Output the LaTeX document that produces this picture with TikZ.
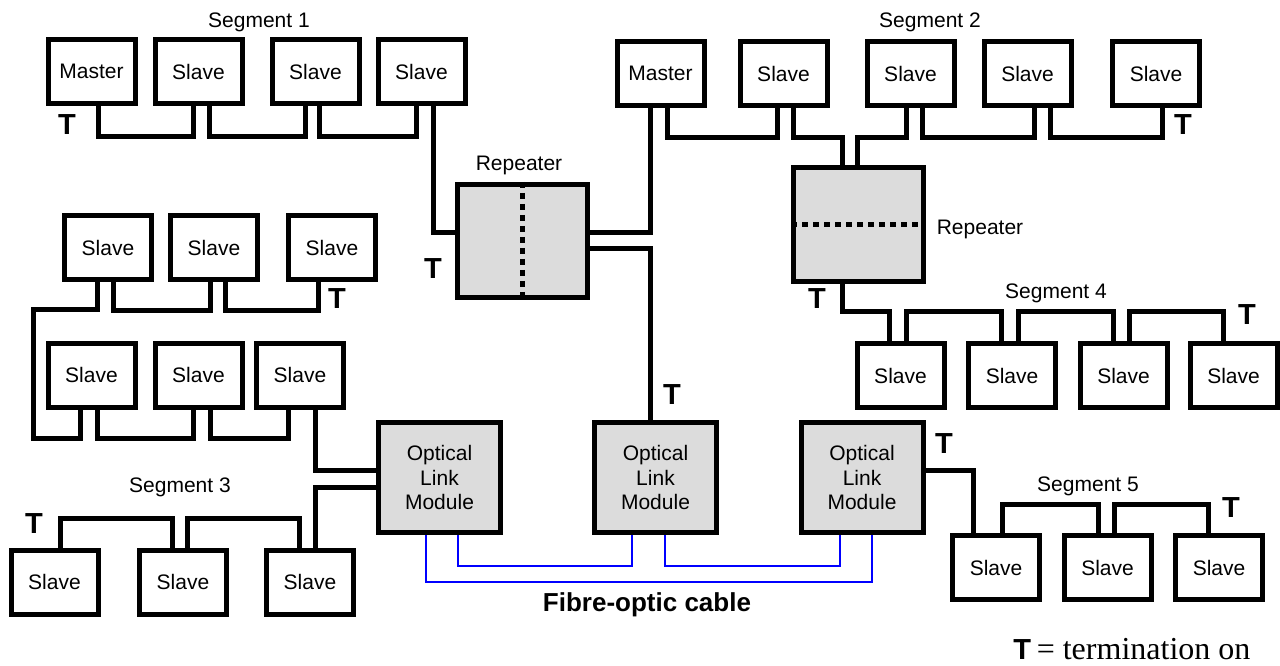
\documentclass[tikz,border=0pt]{standalone}
\usepackage{fontspec}
\setmainfont{Liberation Sans}
\newfontfamily\timesfont{Liberation Serif}
\definecolor{panelgray}{RGB}{220,220,220}

\begin{document}
\begin{tikzpicture}[x=0.75pt,y=-0.75pt,
  every node/.style={font=\fontsize{15.75}{18.4}\selectfont},
  device/.style={draw,line width=3.75pt,minimum width=65.25pt,minimum height=48pt,inner sep=0pt},
  repeater/.style={draw,line width=3.75pt,fill=panelgray,minimum width=97pt,minimum height=85pt},
  olm/.style={draw,line width=3.75pt,fill=panelgray,minimum width=91.5pt,minimum height=82.5pt,
    align=center,inner sep=0pt},
  bus/.style={line width=3.75pt},
  fibre/.style={blue,line width=1.3pt},
  split/.style={line width=3.75pt,dash pattern=on 4.5pt off 3.75pt},
  term/.style={inner sep=0pt,font=\fontsize{21.75}{22}\selectfont\bfseries}]
  \useasboundingbox (0,0) rectangle (1280,665);

  % segment 1
  \node[device] (m1)  at (91.5,71.5)  {Master};
  \node[device] (s11) at (198.5,71.5) {Slave};
  \node[device] (s12) at (315.5,71.5) {Slave};
  \node[device] (s13) at (421.5,71.5) {Slave};
  \node at (259,22) {Segment 1};
  % segment 2
  \node[device] (m2)  at (660.5,73.5)  {Master};
  \node[device] (s21) at (783.5,73.5)  {Slave};
  \node[device] (s22) at (910.5,73.5)  {Slave};
  \node[device] (s23) at (1027.5,73.5) {Slave};
  \node[device] (s24) at (1156,73.5)   {Slave};
  \node at (930,22) {Segment 2};
  % left rows (segment 3)
  \node[device] (a1) at (108,247.5) {Slave};
  \node[device] (a2) at (214,247.5) {Slave};
  \node[device] (a3) at (332,247.5) {Slave};
  \node[device] (b1) at (91.5,375)  {Slave};
  \node[device] (b2) at (198.5,375) {Slave};
  \node[device] (b3) at (300,375)   {Slave};
  \node[device] (c1) at (54.5,582)  {Slave};
  \node[device] (c2) at (183,582)   {Slave};
  \node[device] (c3) at (310,582)   {Slave};
  \node at (180,487) {Segment 3};
  % segment 4
  \node[device] (d1) at (900.5,375.5)  {Slave};
  \node[device] (d2) at (1012,375.5)   {Slave};
  \node[device] (d3) at (1123.5,375.5) {Slave};
  \node[device] (d4) at (1233.5,375.5) {Slave};
  \node at (1056,293) {Segment 4};
  % segment 5
  \node[device] (e1) at (996,567.5)    {Slave};
  \node[device] (e2) at (1107.5,567.5) {Slave};
  \node[device] (e3) at (1219,567.5)   {Slave};
  \node at (1088,486) {Segment 5};

  % repeaters
  \node[repeater] (r1) at (522.5,241) {};
  \draw[split] (r1.north) -- (r1.south);
  \node at (519,165) {Repeater};
  \node[repeater] (r2) at (858.5,224.5) {};
  \draw[split] (r2.west) -- (r2.east);
  \node at (980,229) {Repeater};

  % optical link modules
  \node[olm] (o1) at (439.5,477.5) {Optical\\Link\\Module};
  \node[olm] (o2) at (655.5,477.5) {Optical\\Link\\Module};
  \node[olm] (o3) at (862,477.5)   {Optical\\Link\\Module};

  % bus cables, segment 1
  \draw[bus] (98,0 |- m1.south)  |- (193,136) -- (193,0 |- s11.south);
  \draw[bus] (209,0 |- s11.south) |- (305,136) -- (305,0 |- s12.south);
  \draw[bus] (319,0 |- s12.south) |- (416,136) -- (416,0 |- s13.south);
  \draw[bus] (433,0 |- s13.south) |- (r1.west |- 0,232);
  % repeater 1 to segment 2 and fibre link
  \draw[bus] (r1.east |- 0,232) -| (650,0 |- m2.south);
  \draw[bus] (r1.east |- 0,248) -| (650,0 |- o2.north);
  % segment 2
  \draw[bus] (667,0 |- m2.south)   |- (777,137) -- (777,0 |- s21.south);
  \draw[bus] (793,0 |- s21.south)  |- (842,137) -- (842,0 |- r2.north);
  \draw[bus] (857,0 |- r2.north)   |- (906,137) -- (906,0 |- s22.south);
  \draw[bus] (922,0 |- s22.south)  |- (1034,137) -- (1034,0 |- s23.south);
  \draw[bus] (1050,0 |- s23.south) |- (1162,137) -- (1162,0 |- s24.south);
  % segment 4
  \draw[bus] (842,0 |- r2.south)  |- (889,311) -- (889,0 |- d1.north);
  \draw[bus] (906,0 |- d1.north)  |- (1001,311) -- (1001,0 |- d2.north);
  \draw[bus] (1018,0 |- d2.north) |- (1113,311) -- (1113,0 |- d3.north);
  \draw[bus] (1129,0 |- d3.north) |- (1223,311) -- (1223,0 |- d4.north);
  % segment 3
  \draw[bus] (97,0 |- a1.south) |- (33,309) |- (80,438) -- (80,0 |- b1.south);
  \draw[bus] (113,0 |- a1.south) |- (210,310) -- (210,0 |- a2.south);
  \draw[bus] (225,0 |- a2.south) |- (318,310) -- (318,0 |- a3.south);
  \draw[bus] (97,0 |- b1.south)  |- (193,438) -- (193,0 |- b2.south);
  \draw[bus] (210,0 |- b2.south) |- (288,438) -- (288,0 |- b3.south);
  \draw[bus] (315,0 |- b3.south) |- (o1.west |- 0,470);
  \draw[bus] (o1.west |- 0,487) -| (315,0 |- c3.north);
  \draw[bus] (60,0 |- c1.north)  |- (172,518) -- (172,0 |- c2.north);
  \draw[bus] (187,0 |- c2.north) |- (299,518) -- (299,0 |- c3.north);
  % segment 5
  \draw[bus] (o3.east |- 0,470) -| (973,0 |- e1.north);
  \draw[bus] (1002,0 |- e1.north) |- (1098,504) -- (1098,0 |- e2.north);
  \draw[bus] (1114,0 |- e2.north) |- (1208,504) -- (1208,0 |- e3.north);

  % fibre-optic cable
  \draw[fibre] (426,0 |- o1.south) |- (872,582) -- (872,0 |- o3.south);
  \draw[fibre] (458,0 |- o1.south) |- (632,566) -- (632,0 |- o2.south);
  \draw[fibre] (665,0 |- o2.south) |- (840,566) -- (840,0 |- o3.south);
  \node[font=\fontsize{19.5}{20}\selectfont\bfseries] at (647,605) {Fibre-optic cable};

  % terminations
  \node[term] at (67,125)   {T};
  \node[term] at (433,269)  {T};
  \node[term] at (1183,125) {T};
  \node[term] at (817,299)  {T};
  \node[term] at (1247,315) {T};
  \node[term] at (337,299)  {T};
  \node[term] at (34,524)   {T};
  \node[term] at (672,395)  {T};
  \node[term] at (944,444)  {T};
  \node[term] at (1231,508) {T};

  % legend
  \node[anchor=base west,inner sep=0pt] at (1013,659)
    {{\fontsize{21.75}{22}\selectfont\bfseries T} {\timesfont\fontsize{24}{24}\selectfont= termination on}};
\end{tikzpicture}
\end{document}
